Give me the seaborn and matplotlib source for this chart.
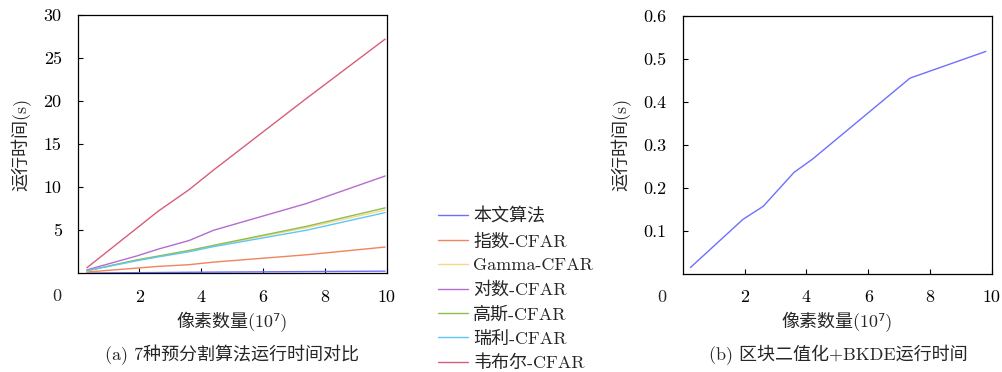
import numpy as np
import pandas as pd
import matplotlib
matplotlib.use("Agg")
import matplotlib.pyplot as plt
import seaborn as sns

# 数据 (a): 7种预分割算法运行时间
x_a = [0.3, 1.9, 2.6, 3.6, 4.4, 7.4, 9.95]
methods = ['本文算法', '指数-CFAR', 'Gamma-CFAR', '对数-CFAR', '高斯-CFAR', '瑞利-CFAR', '韦布尔-CFAR']
t_ours = [0.02, 0.07, 0.09, 0.12, 0.14, 0.2, 0.25]
t_exp = [0.15, 0.6, 0.8, 1.0, 1.3, 2.15, 3.05]
t_gamma = [0.3, 1.5, 1.95, 2.6, 3.2, 5.3, 7.35]
t_log = [0.4, 2.0, 2.8, 3.8, 5.0, 8.1, 11.3]
t_gauss = [0.3, 1.55, 2.0, 2.65, 3.25, 5.45, 7.6]
t_rayleigh = [0.3, 1.45, 1.9, 2.5, 3.1, 5.0, 7.05]
t_weibull = [0.65, 5.2, 7.2, 9.7, 12.0, 20.3, 27.2]

# 数据 (b): 区块二值化+BKDE
x_b = [0.25, 1.95, 2.6, 3.6, 4.2, 7.35, 9.8]
t_bkde = [0.015, 0.127, 0.157, 0.236, 0.267, 0.455, 0.517]

colors = ['#6f6fff', '#f0845a', '#f5d88a', '#b46cd0', '#8cbf4c', '#5fc6f7', '#d55f78']

sns.set_style("ticks")
plt.rcParams['font.family'] = ['cmr10', 'Noto Sans CJK SC', 'DejaVu Sans']
plt.rcParams['axes.formatter.use_mathtext'] = True
plt.rcParams['axes.unicode_minus'] = False

series = [t_ours, t_exp, t_gamma, t_log, t_gauss, t_rayleigh, t_weibull]
df_a = pd.DataFrame({
    'x': np.tile(x_a, len(methods)),
    't': np.concatenate(series),
    'm': np.repeat(methods, len(x_a)),
})
df_b = pd.DataFrame({'x': x_b, 't': t_bkde})

fig = plt.figure(figsize=(10.02, 3.72), dpi=100)
ax1 = fig.add_axes([0.0775, 0.2653, 0.3084, 0.6944])
ax2 = fig.add_axes([0.6813, 0.2634, 0.3087, 0.6944])

sns.lineplot(data=df_a, x='x', y='t', hue='m', hue_order=methods,
             palette=colors, linewidth=1.0, ax=ax1, sort=False)
sns.lineplot(data=df_b, x='x', y='t', color=colors[0], linewidth=1.0, ax=ax2)

fs = 13
for ax, yt, ylim in [(ax1, [5, 10, 15, 20, 25, 30], 30), (ax2, [0.1, 0.2, 0.3, 0.4, 0.5, 0.6], 0.6)]:
    ax.set_xlim(0, 10)
    ax.set_ylim(0, ylim)
    ax.set_xticks([2, 4, 6, 8, 10])
    ax.set_xticklabels(['2', '4', '6', '8', '10'])
    ax.set_yticks(yt)
    ax.set_yticklabels([f'{v:g}' for v in yt])
    ax.tick_params(direction='in', length=3.5, width=0.8, labelsize=fs, pad=11.5,
                   colors='black', top=False, right=False)
    for s in ax.spines.values():
        s.set_linewidth(0.9)
        s.set_color('black')
    ax.set_xlabel('像素数量(10⁷)', fontsize=fs, labelpad=5)
    ax.set_ylabel('运行时间(s)', fontsize=fs, labelpad=9)
    # 原点处的 "0"
    ax.text(-0.068, -0.09, '0', transform=ax.transAxes, fontsize=fs,
            ha='center', va='center')

handles, labels = ax1.get_legend_handles_labels()
ax1.get_legend().remove()
fig.legend(handles, labels, loc='center left', bbox_to_anchor=(0.437, 0.222),
           frameon=False, fontsize=fs, handlelength=1.65, handletextpad=0.3,
           labelspacing=0.45, borderaxespad=0, borderpad=0)

fig.text(0.232, 0.045, '(a) 7种预分割算法运行时间对比', fontsize=fs, ha='center', va='center')
fig.text(0.837, 0.045, '(b) 区块二值化+BKDE运行时间', fontsize=fs, ha='center', va='center')

fig.savefig('out.png', dpi=100)
